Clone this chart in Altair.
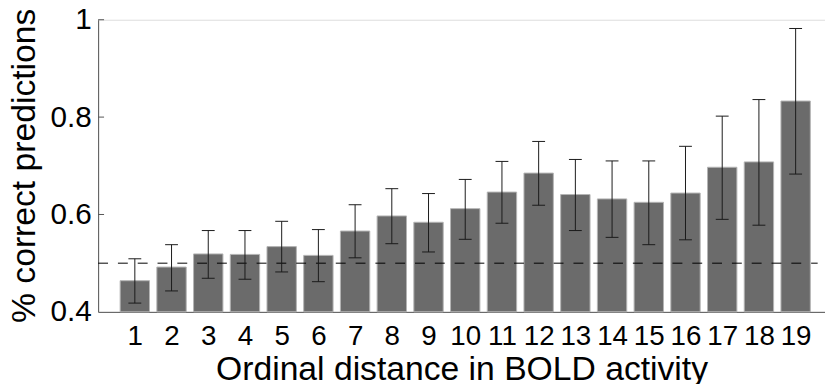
import altair as alt
import pandas as pd

# ---- data ----
distance = list(range(1, 20))
accuracy = [0.464, 0.492, 0.519, 0.518, 0.534, 0.516, 0.566, 0.597, 0.584, 0.612,
            0.646, 0.685, 0.641, 0.632, 0.625, 0.644, 0.697, 0.708, 0.833]
err_low = [0.418, 0.443, 0.469, 0.467, 0.482, 0.462, 0.511, 0.540, 0.523, 0.549,
           0.582, 0.619, 0.567, 0.553, 0.538, 0.548, 0.590, 0.578, 0.683]
err_high = [0.509, 0.538, 0.567, 0.567, 0.586, 0.569, 0.620, 0.653, 0.643, 0.672,
            0.709, 0.750, 0.713, 0.710, 0.710, 0.740, 0.802, 0.836, 0.982]
y_tick_values = [0.4, 0.6, 0.8, 1.0]
chance_level = [0.5]
chance_start = [0.0]
chance_end = [19.6]

df = pd.DataFrame({"d": distance, "acc": accuracy, "lo": err_low, "hi": err_high})
ticks_df = pd.DataFrame({"v": y_tick_values[1:]})
chance_df = pd.DataFrame({"y": chance_level, "x0": chance_start, "x1": chance_end})

FONT = "Liberation Sans"
xscale = alt.Scale(domain=[0, 19.8], nice=False, zero=False)
yscale = alt.Scale(domain=[0.4, 1.0], nice=False, zero=False, clamp=True)

base = alt.Chart(df)

bars = base.transform_calculate(
    x0="datum.d - 0.4", x1="datum.d + 0.4"
).mark_bar(color="#6b6b6b", stroke="#b4b4b4", strokeWidth=1).encode(
    x=alt.X("x0:Q", scale=xscale, axis=alt.Axis(
        values=distance, format="d", title="Ordinal distance in BOLD activity",
        ticks=False, tickSize=0, labelPadding=33, labelBaseline="alphabetic",
        labelFontSize=28, labelFont=FONT, labelColor="black", labelOverlap=False,
        labelFlush=False, grid=False, domainColor="#555555", domainWidth=1,
        titleFont=FONT, titleFontSize=34, titleFontWeight="normal", titleColor="black",
        titleY=68, titleBaseline="alphabetic")),
    x2="x1:Q",
    y=alt.Y("acc:Q", scale=yscale, axis=alt.Axis(
        values=y_tick_values, format="~g", title="% correct predictions",
        ticks=False, tickSize=0, labelPadding=7, labelFontSize=30, labelFont=FONT,
        labelColor="black", labelFlush=False, labelOverlap=False, grid=False,
        domainColor="#555555", domainWidth=1,
        titleFont=FONT, titleFontSize=34, titleFontWeight="normal", titleColor="black",
        titleX=-64, titleY=147, titleAngle=270, titleAlign="center",
        titleBaseline="alphabetic")),
    y2=alt.Y2(datum=0.4),
)

chance = alt.Chart(chance_df).mark_rule(color="black", strokeWidth=1, strokeDash=[10, 10]).encode(
    x=alt.X("x0:Q", scale=xscale), x2="x1:Q", y=alt.Y("y:Q", scale=yscale)
)

err = base.mark_rule(color="#1a1a1a", strokeWidth=1).encode(
    x=alt.X("d:Q", scale=xscale), y=alt.Y("lo:Q", scale=yscale), y2="hi:Q"
)
cap_hi = base.transform_calculate(
    c0="datum.d - 0.175", c1="datum.d + 0.175"
).mark_rule(color="#1a1a1a", strokeWidth=1).encode(
    x=alt.X("c0:Q", scale=xscale), x2="c1:Q", y=alt.Y("hi:Q", scale=yscale)
)
cap_lo = base.transform_calculate(
    c0="datum.d - 0.175", c1="datum.d + 0.175"
).mark_rule(color="#1a1a1a", strokeWidth=1).encode(
    x=alt.X("c0:Q", scale=xscale), x2="c1:Q", y=alt.Y("lo:Q", scale=yscale)
)

yticks = alt.Chart(ticks_df).mark_rule(color="#555555", strokeWidth=1).encode(
    x=alt.value(0), x2=alt.value(6), y=alt.Y("v:Q", scale=yscale)
)

chart = alt.layer(bars, chance, err, cap_hi, cap_lo, yticks).properties(
    width=734, height=295,
    autosize=alt.AutoSizeParams(type="none"),
    padding={"left": 91, "top": 10, "right": 0, "bottom": 71},
).configure_view(stroke=None).configure(background="white")

chart.save("out.html", embed_options={"renderer": "svg", "actions": False})
